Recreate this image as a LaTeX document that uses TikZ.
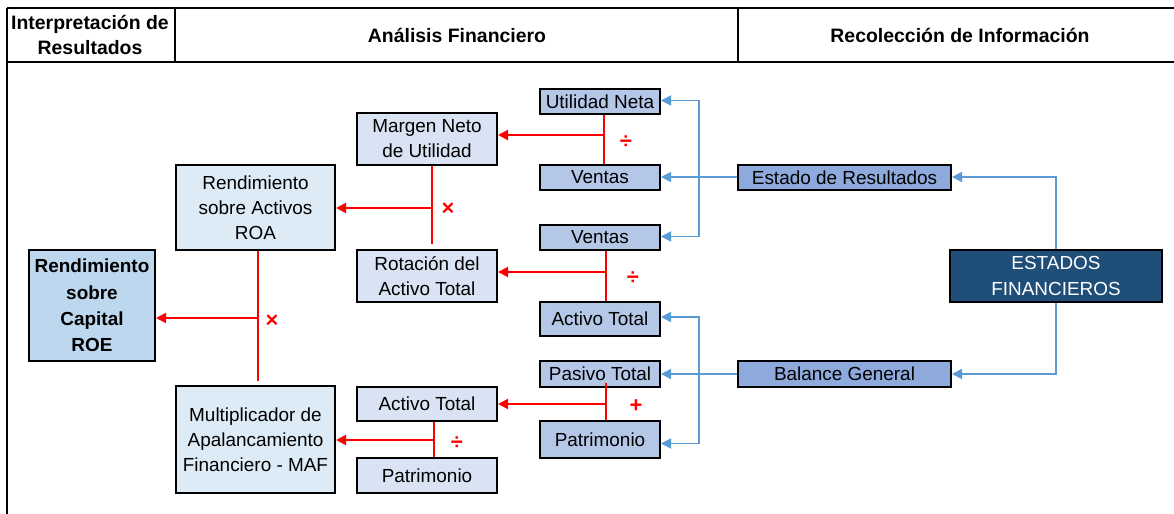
\documentclass[tikz,border=0pt]{standalone}
\usepackage{fontspec}
\setmainfont{Liberation Sans}
\usetikzlibrary{arrows.meta,positioning,calc}
\definecolor{finred}{RGB}{255,0,0}
\definecolor{finblue}{RGB}{91,155,213}
\definecolor{datafill}{RGB}{180,199,231}
\definecolor{ratiofill}{RGB}{218,227,243}
\definecolor{indfill}{RGB}{221,235,247}
\definecolor{roefill}{RGB}{189,215,238}
\definecolor{srcfill}{RGB}{142,169,219}
\definecolor{efnavy}{RGB}{31,78,121}

\begin{document}
\begin{tikzpicture}[
    x=1bp, y=-1bp,
    box/.style={
      draw=black,
      line width=2bp,
      inner sep=0pt,
      align=center,
      text=black,
      font=\fontsize{19}{25}\selectfont
    },
    databox/.style={box,fill=datafill,minimum width=120bp},
    ratiobox/.style={box,fill=ratiofill,minimum width=140bp},
    indbox/.style={box,fill=indfill,minimum width=159bp},
    srcbox/.style={box,fill=srcfill,minimum width=213bp},
    headtxt/.style={align=center,font=\fontsize{19.5}{25}\selectfont\bfseries},
    opline/.style={draw=finred,line width=1.8bp},
    oparrow/.style={opline,-{Triangle[length=10bp,width=10bp]}},
    feedarrow/.style={draw=finblue,line width=1.8bp,-{Triangle[length=10bp,width=10bp]}},
    opsym/.style={text=finred,font=\fontsize{22}{22}\selectfont\bfseries}
  ]
  \useasboundingbox (0,0) rectangle (1174,514);
  % header
  \draw[line width=1.5bp] (7,8) -- (1174,8);
  \draw[line width=2bp] (7,62) -- (1174,62);
  \draw[line width=2bp] (7,8) -- (7,514);
  \draw[line width=2bp] (175,8) -- (175,62);
  \draw[line width=2bp] (738,8) -- (738,62);
  \node[headtxt] (hinterp) at (90,35) {Interpretación de\\Resultados};
  \node[headtxt] (hanalisis) at (457,35) {Análisis Financiero};
  \node[headtxt] (hrecol) at (960,35) {Recolección de Información};

  % data boxes
  \node[databox,minimum height=25bp] (utilidad) at (600,101.5) {Utilidad Neta};
  \node[databox,minimum height=25bp] (ventasA) at (600,177.5) {Ventas};
  \node[databox,minimum height=25bp] (ventasB) at (600,237.5) {Ventas};
  \node[databox,minimum height=34bp] (activoA) at (600,319) {Activo Total};
  \node[databox,minimum height=26bp] (pasivo) at (600,374) {Pasivo Total};
  \node[databox,minimum height=37bp] (patrimA) at (600,439.5) {Patrimonio};

  % ratios
  \node[ratiobox,minimum height=52bp] (margen) at (427,139) {Margen Neto\\de Utilidad};
  \node[ratiobox,minimum height=52bp] (rotacion) at (427,276) {Rotación del\\Activo Total};
  \node[ratiobox,minimum height=34bp] (activoB) at (427,404) {Activo Total};
  \node[ratiobox,minimum height=35bp] (patrimB) at (427,475.5) {Patrimonio};

  % indicators
  \node[indbox,minimum height=85bp] (roa) at (255.5,207.5) {Rendimiento\\sobre Activos\\ROA};
  \node[indbox,minimum height=107bp] (maf) at (255.5,439.5) {Multiplicador de\\Apalancamiento\\Financiero - MAF};
  \node[box,fill=roefill,minimum width=126bp,minimum height=111bp,
        font=\fontsize{19}{26.5}\selectfont\bfseries] (roe) at (92,305.5) {Rendimiento\\sobre\\Capital\\ROE};

  % sources
  \node[srcbox,minimum height=25bp] (estado) at (844.5,177.5) {Estado de Resultados};
  \node[srcbox,minimum height=26bp] (balance) at (844.5,374) {Balance General};
  \node[box,fill=efnavy,text=white,minimum width=212bp,minimum height=52bp,
        font=\fontsize{19}{26}\selectfont] (ef) at (1056,276) {ESTADOS\\FINANCIEROS};

  % red operations
  \coordinate (jA) at (604,135);
  \coordinate (jB) at (432,208);
  \coordinate (jC) at (606,272);
  \coordinate (jD) at (258,318);
  \coordinate (jE) at (606,404);
  \coordinate (jF) at (434,440);

  \draw[opline] (jA |- utilidad.south) -- (jA |- ventasA.north);
  \draw[oparrow] (jA) -- (jA -| margen.east);
  \node[opsym] (divA) at (626,142) {÷};

  \draw[opline,shorten >=5bp] (jB |- margen.south) -- (jB |- rotacion.north);
  \draw[oparrow] (jB) -- (jB -| roa.east);
  \node[opsym] (mulA) at (448,209) {×};

  \draw[opline] (jC |- ventasB.south) -- (jC |- activoA.north);
  \draw[oparrow] (jC) -- (jC -| rotacion.east);
  \node[opsym] (divB) at (633,278) {÷};

  \draw[opline,shorten >=4bp] (jD |- roa.south) -- (jD |- maf.north);
  \draw[oparrow] (jD) -- (jD -| roe.east);
  \node[opsym] (mulB) at (272,321) {×};

  \draw[opline,shorten <=-5bp] (jE |- pasivo.south) -- (jE |- patrimA.north);
  \draw[oparrow] (jE) -- (jE -| activoB.east);
  \node[opsym] (sumA) at (636,406) {+};

  \draw[opline] (jF |- activoB.south) -- (jF |- patrimB.north);
  \draw[oparrow] (jF) -- (jF -| maf.east);
  \node[opsym] (divC) at (457,443) {÷};

  % blue feeds
  \coordinate (busA) at (699,177);
  \coordinate (busB) at (699,374);
  \coordinate (efTop) at (1056,177);
  \draw[feedarrow] (estado.west |- busA) -- (busA -| ventasA.east);
  \draw[feedarrow] (busA) |- ([yshift=1bp]utilidad.east);
  \draw[feedarrow] (busA) |- ([yshift=1bp]ventasB.east);
  \draw[feedarrow] (balance) -- (pasivo);
  \draw[feedarrow] (busB) |- ([yshift=2bp]activoA.east);
  \draw[feedarrow] (busB) |- ([yshift=-4bp]patrimA.east);
  \draw[feedarrow] (ef.north) |- (efTop -| estado.east);
  \draw[feedarrow] (ef.south) |- (balance);
\end{tikzpicture}
\end{document}
